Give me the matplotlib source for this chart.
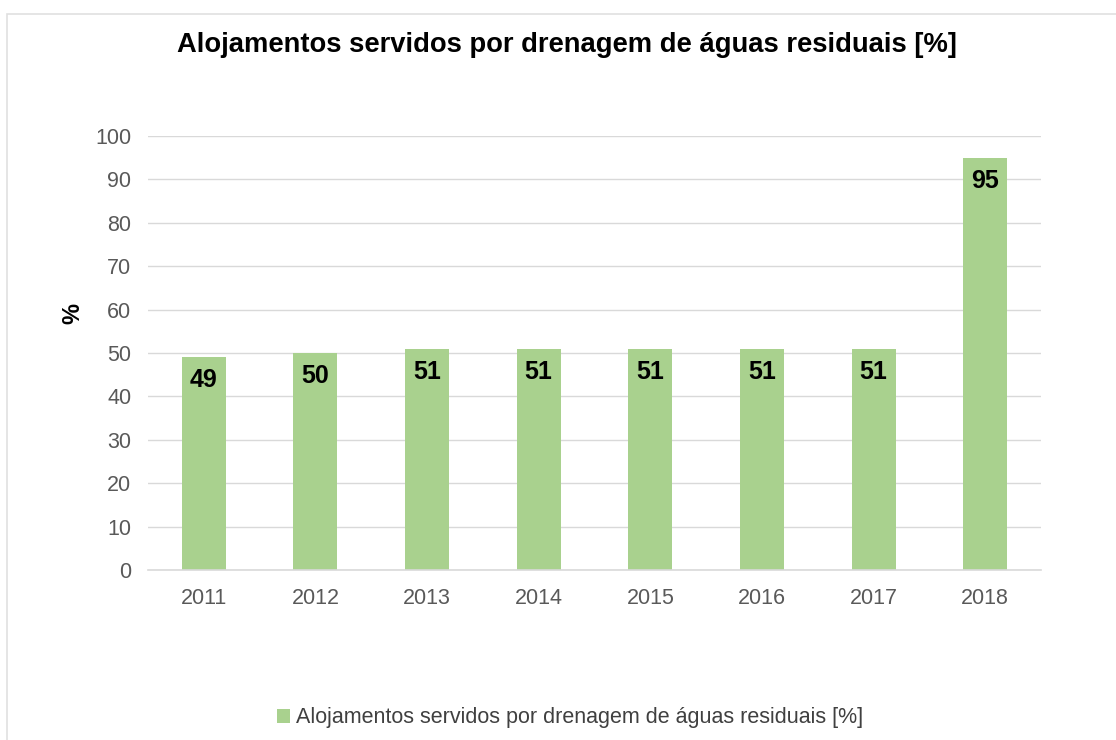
import matplotlib
matplotlib.use('Agg')
import matplotlib.pyplot as plt
from matplotlib.patches import Rectangle, Patch

years = ['2011', '2012', '2013', '2014', '2015', '2016', '2017', '2018']
values = [49, 50, 51, 51, 51, 51, 51, 95]
series_name = 'Alojamentos servidos por drenagem de águas residuais [%]'

plt.rcParams['font.family'] = ['Liberation Sans', 'DejaVu Sans']

W, H = 1116, 740
fig = plt.figure(figsize=(W / 100, H / 100), dpi=100)
ax = fig.add_axes([148 / W, 1 - 570 / H, (1041 - 148) / W, (570 - 136) / H])

green = '#A9D18E'
x = list(range(len(years)))
bars = ax.bar(x, values, width=0.395, color=green, zorder=2)

ax.set_xlim(-0.5, len(years) - 0.5)
ax.set_ylim(0, 100)
ax.set_yticks(range(0, 101, 10))
ax.set_xticks(x)
ax.set_xticklabels(years)
ax.grid(axis='y', color='#d9d9d9', linewidth=1, zorder=0)
for s in ['top', 'right', 'left']:
    ax.spines[s].set_visible(False)
ax.spines['bottom'].set_color('#d9d9d9')
ax.spines['bottom'].set_linewidth(1.2)
ax.tick_params(axis='both', length=0, labelsize=15.5, colors='#595959', pad=12)
ax.tick_params(axis='x', pad=13)

for rect, v in zip(bars, values):
    ax.annotate(str(v), (rect.get_x() + rect.get_width() / 2, v),
                xytext=(0, -16.5), textcoords='offset points',
                ha='center', va='center', fontsize=18, fontweight='bold', color='black')

fig.text(73 / W, 1 - 313 / H, '%', rotation=90, ha='center', va='center',
         fontsize=17, fontweight='bold', color='#000000')
fig.text(567 / W, 1 - 45 / H, 'Alojamentos servidos por drenagem de águas residuais [%]',
         ha='center', va='center', fontsize=19.7, fontweight='bold', color='black')

handle = Patch(facecolor=green, edgecolor='none')
fig.legend([handle], [series_name], loc='center', bbox_to_anchor=(570 / W, 1 - 718 / H),
           frameon=False, fontsize=15.5, handlelength=0.6, handleheight=0.6,
           handletextpad=0.25, labelcolor='#404040')

fig.patches.append(Rectangle((7 / W, -0.1), 1.2, 1 - 14 / H + 0.1, transform=fig.transFigure,
                             fill=False, edgecolor='#e0e0e0', linewidth=1.2))

fig.savefig('out.png', dpi=100)
